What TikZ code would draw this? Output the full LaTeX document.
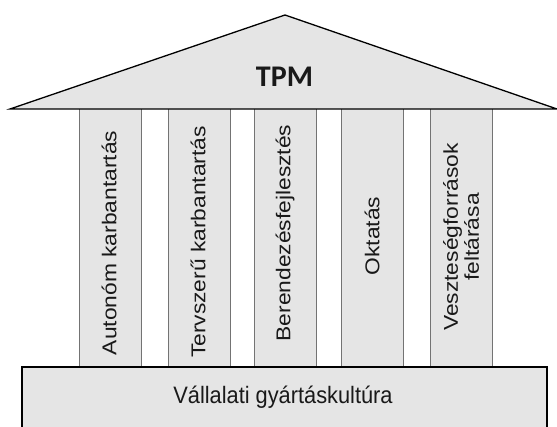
\documentclass[tikz,border=0pt]{standalone}
\usepackage{fontspec}
\setmainfont{Liberation Sans}
\newfontfamily\tpmfont{Carlito}
\definecolor{fillgray}{gray}{0.9}
\definecolor{inkgray}{gray}{0.1}
\tikzset{
  pillar/.style={shape=rectangle, draw=black!55, line width=0.5pt, fill=fillgray, minimum width=62, minimum height=258, inner sep=0pt},
  pillartext/.style={yscale=1.14, rotate=90, text=inkgray, align=center, inner sep=0pt, font=\fontsize{20}{21}\selectfont},
  roofline/.style={draw=black, line width=0.65pt, fill=fillgray, line join=miter},
  slab/.style={shape=rectangle, draw=black, line width=0.65pt, fill=fillgray, minimum width=525, minimum height=66, inner sep=0pt},
  slabtext/.style={yscale=1.09, text=inkgray, inner sep=0pt, font=\fontsize{21.8}{26}\selectfont},
  tpm/.style={text=inkgray, inner sep=0pt, font=\tpmfont\bfseries\fontsize{30}{36}\selectfont}
}
\begin{document}
\begin{tikzpicture}[x=1pt,y=1pt,scale=0.5,every node/.style={transform shape}]
\useasboundingbox (0,0) rectangle (557,427);

% pillars
\path (110,189) node (C1) [pillar] {};
\path (199,189) node (C2) [pillar] {};
\path (285.5,189) node (C3) [pillar] {};
\path (372,189) node (C4) [pillar] {};
\path (461.5,189) node (C5) [pillar] {};

\path (109,184) node (T1) [pillartext] {Autonóm karbantartás};
\path (198,185) node (T2) [pillartext] {Tervszerű karbantartás};
\path (285,194) node (T3) [pillartext] {Berendezésfejlesztés};
\path (372,191) node (T4) [pillartext] {Oktatás};
\path (461,190) node (T5) [pillartext] {Veszteségforrások\\feltárása};

% roof
\coordinate (eaveL) at (10,318);
\coordinate (apex) at (285,412);
\coordinate (eaveR) at (557,318);
\filldraw [roofline] (eaveL) -- (apex) -- (eaveR) -- cycle;
\path (284.5,350) node (TPM) [tpm] {TPM};

% foundation
\path (284.5,27) node (base) [slab] {};
\path (283,30) node (basetext) [slabtext] {Vállalati gyártáskultúra};

\end{tikzpicture}
\end{document}
